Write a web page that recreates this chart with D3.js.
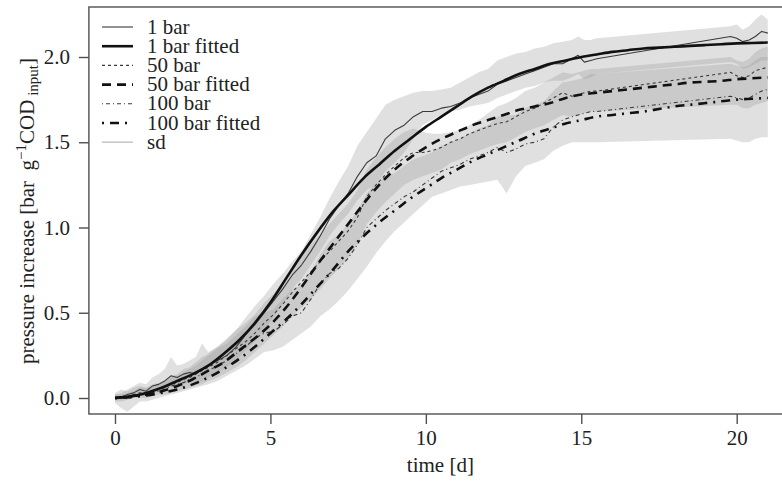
<!DOCTYPE html>
<html>
<head>
<meta charset="utf-8">
<script src="https://cdn.jsdelivr.net/npm/d3@7"></script>
<style>
  html, body { margin: 0; padding: 0; background: #fff; }
  svg { display: block; font-family: "Liberation Serif", "DejaVu Serif", serif; }
</style>
</head>
<body>
<svg id="chart" width="782" height="487"></svg>
<script>
// measurement days (same grid for measured series and sd bands)
const days = [0,0.2,0.4,0.6,0.8,1.0,1.2,1.4,1.6,1.8,2.0,2.2,2.4,2.6,2.8,3.0,3.3,3.6,3.9,4.2,4.5,4.8,5.1,5.4,5.7,6.0,6.3,6.6,6.9,7.2,7.5,7.8,8.1,8.4,8.7,9.0,9.3,9.6,9.9,10.2,10.5,10.8,11.1,11.4,11.7,12.0,12.3,12.6,12.9,13.2,13.5,13.8,14.1,14.4,14.7,14.9,15.1,15.3,15.5,19.8,20.0,20.2,20.4,20.6,20.8,21.0];

const bar1 = [0,0.005,0.02,0.03,0.05,0.04,0.07,0.08,0.1,0.13,0.12,0.14,0.15,0.14,0.17,0.19,0.22,0.25,0.3,0.37,0.43,0.5,0.57,0.64,0.72,0.78,0.86,0.95,1.05,1.13,1.2,1.3,1.38,1.42,1.52,1.57,1.6,1.65,1.68,1.68,1.7,1.71,1.73,1.76,1.78,1.8,1.84,1.86,1.88,1.9,1.92,1.94,1.96,1.96,1.99,2.01,1.97,1.98,1.99,2.12,2.11,2.09,2.1,2.12,2.15,2.14];
const bar50 = [0,0,0.01,0.02,0.03,0.03,0.04,0.05,0.06,0.08,0.09,0.11,0.12,0.14,0.16,0.18,0.21,0.25,0.29,0.33,0.38,0.44,0.49,0.55,0.62,0.68,0.74,0.8,0.86,0.92,0.98,1.06,1.18,1.25,1.31,1.36,1.41,1.44,1.44,1.45,1.47,1.5,1.52,1.55,1.57,1.59,1.61,1.62,1.65,1.68,1.7,1.73,1.76,1.79,1.77,1.78,1.79,1.8,1.8,1.91,1.89,1.88,1.89,1.92,1.93,1.94];
const bar100 = [0,0.005,-0.005,0.01,0.02,0.02,0.03,0.04,0.05,0.07,0.08,0.09,0.11,0.12,0.14,0.16,0.19,0.22,0.26,0.3,0.35,0.38,0.39,0.43,0.48,0.5,0.58,0.67,0.73,0.76,0.82,0.9,1.0,1.05,1.1,1.14,1.18,1.21,1.25,1.29,1.33,1.35,1.37,1.4,1.42,1.44,1.47,1.44,1.46,1.49,1.5,1.52,1.59,1.63,1.65,1.66,1.67,1.68,1.68,1.77,1.76,1.75,1.76,1.78,1.8,1.81];

// sd bands (lower / upper)
const sd1Lo = [-0.01,-0.01,0,0,0.02,0.01,0.03,0.04,0.05,0.07,0.06,0.08,0.09,0.08,0.1,0.12,0.15,0.18,0.22,0.28,0.33,0.4,0.47,0.55,0.64,0.7,0.78,0.86,0.95,1.02,1.08,1.16,1.22,1.25,1.33,1.38,1.44,1.52,1.6,1.63,1.66,1.68,1.69,1.71,1.72,1.73,1.76,1.78,1.8,1.82,1.83,1.85,1.86,1.86,1.88,1.9,1.87,1.88,1.9,1.97,1.96,1.93,1.94,1.96,1.98,1.98];
const sd1Hi = [0.02,0.03,0.05,0.07,0.09,0.08,0.12,0.14,0.17,0.24,0.19,0.2,0.22,0.24,0.32,0.27,0.3,0.34,0.4,0.47,0.54,0.6,0.67,0.73,0.8,0.86,0.96,1.06,1.17,1.27,1.36,1.48,1.56,1.64,1.72,1.75,1.77,1.79,1.8,1.8,1.81,1.82,1.85,1.88,1.91,1.93,1.98,2.0,2.02,2.03,2.05,2.06,2.08,2.09,2.1,2.12,2.1,2.1,2.11,2.18,2.19,2.16,2.18,2.22,2.25,2.22];
const sd50Lo = [-0.02,-0.02,-0.01,0,0,0,0.01,0.02,0.02,0.03,0.04,0.05,0.06,0.07,0.08,0.1,0.12,0.15,0.18,0.22,0.27,0.32,0.37,0.42,0.48,0.53,0.58,0.64,0.7,0.76,0.82,0.9,1.02,1.09,1.15,1.2,1.25,1.28,1.3,1.32,1.34,1.38,1.4,1.43,1.45,1.47,1.49,1.5,1.53,1.56,1.58,1.6,1.63,1.66,1.65,1.66,1.67,1.68,1.68,1.72,1.72,1.7,1.7,1.72,1.73,1.74];
const sd50Hi = [0.02,0.02,0.03,0.04,0.06,0.06,0.07,0.08,0.1,0.13,0.14,0.17,0.18,0.21,0.24,0.26,0.3,0.35,0.4,0.44,0.49,0.56,0.61,0.68,0.76,0.83,0.9,0.96,1.02,1.08,1.14,1.22,1.34,1.41,1.47,1.52,1.56,1.58,1.56,1.55,1.55,1.56,1.57,1.6,1.63,1.67,1.71,1.73,1.76,1.8,1.82,1.85,1.88,1.91,1.9,1.91,1.92,1.93,1.93,2.0,1.98,1.97,1.99,2.03,2.05,2.06];
const sd100Lo = [-0.03,-0.06,-0.08,-0.05,-0.02,-0.02,-0.01,0,0.01,0.02,0.03,0.04,0.05,0.06,0.07,0.08,0.1,0.13,0.16,0.19,0.23,0.27,0.28,0.3,0.34,0.38,0.42,0.48,0.52,0.57,0.63,0.7,0.77,0.85,0.92,0.98,1.03,1.08,1.13,1.18,1.2,1.22,1.24,1.25,1.26,1.27,1.28,1.2,1.3,1.36,1.38,1.4,1.45,1.48,1.5,1.5,1.5,1.5,1.5,1.52,1.51,1.5,1.5,1.52,1.53,1.53];
const sd100Hi = [0.03,0.05,0.04,0.06,0.07,0.06,0.08,0.09,0.1,0.12,0.13,0.15,0.17,0.19,0.22,0.25,0.29,0.32,0.37,0.42,0.48,0.5,0.52,0.58,0.64,0.66,0.74,0.84,0.92,0.96,1.02,1.1,1.2,1.26,1.3,1.32,1.36,1.4,1.42,1.44,1.48,1.5,1.52,1.55,1.58,1.6,1.65,1.66,1.66,1.7,1.72,1.74,1.8,1.85,1.86,1.87,1.88,1.9,1.9,1.96,1.95,1.94,1.95,1.98,2.0,2.0];

// fitted curves
const fitDays = [0,0.5,1,1.5,2,2.5,3,3.5,4,4.5,5,5.5,6,6.5,7,7.5,8,8.5,9,9.5,10,10.5,11,11.5,12,12.5,13,13.5,14,14.5,15,15.5,16,16.5,17,17.5,18,18.5,19,19.5,20,20.5,21];
const fit1 = [0,0.01,0.03,0.06,0.1,0.14,0.19,0.26,0.34,0.44,0.56,0.7,0.84,0.97,1.09,1.19,1.29,1.37,1.45,1.52,1.59,1.65,1.71,1.77,1.82,1.86,1.9,1.93,1.96,1.98,2.0,2.015,2.03,2.04,2.05,2.055,2.06,2.065,2.07,2.075,2.08,2.082,2.085];
const fit50 = [0,0.01,0.02,0.04,0.07,0.11,0.16,0.21,0.28,0.35,0.43,0.53,0.65,0.78,0.9,1.02,1.14,1.25,1.34,1.41,1.47,1.52,1.56,1.6,1.63,1.66,1.69,1.71,1.73,1.76,1.78,1.79,1.8,1.81,1.82,1.83,1.84,1.85,1.855,1.86,1.87,1.875,1.88];
const fit100 = [0,0.005,0.015,0.03,0.05,0.08,0.12,0.17,0.23,0.3,0.38,0.46,0.55,0.65,0.75,0.86,0.95,1.03,1.1,1.17,1.23,1.29,1.34,1.39,1.43,1.47,1.51,1.55,1.58,1.61,1.63,1.65,1.66,1.67,1.68,1.695,1.71,1.72,1.73,1.74,1.75,1.755,1.76];

const xTicks = [0, 5, 10, 15, 20];
const yTicks = [0, 0.5, 1, 1.5, 2];
const legendLabels = ['1 bar', '1 bar fitted', '50 bar', '50 bar fitted', '100 bar', '100 bar fitted', 'sd'];

const svg = d3.select('#chart');
const x = d3.scaleLinear().domain([0, 20]).range([115, 736.7]);
const y = d3.scaleLinear().domain([0, 2]).range([398, 57]);
const boxL = x(-0.84), boxR = x(21.84), boxT = 7, boxB = 414;

svg.append('clipPath').attr('id','plotclip').append('rect')
  .attr('x', boxL).attr('y', boxT).attr('width', boxR-boxL).attr('height', boxB-boxT);
const plot = svg.append('g').attr('clip-path','url(#plotclip)');

// sd bands
const area = d3.area().x(d=>x(d.t)).y0(d=>y(d.lo)).y1(d=>y(d.hi));
[[sd1Lo,sd1Hi],[sd50Lo,sd50Hi],[sd100Lo,sd100Hi]].forEach(([lo,hi])=>{
  const pts = days.map((t,i)=>({t, lo:lo[i], hi:hi[i]}));
  plot.append('path').datum(pts).attr('d', area)
    .attr('fill','#999').attr('fill-opacity',0.3).attr('stroke','none');
});

const line = d3.line().x(d=>x(d[0])).y(d=>y(d[1]));
const smooth = d3.line().x(d=>x(d[0])).y(d=>y(d[1])).curve(d3.curveMonotoneX);

const styles = [
  {stroke:'#3a3a3a', width:1.1, dash:null},
  {stroke:'#111', width:2.6, dash:null},
  {stroke:'#3a3a3a', width:1.1, dash:'3,3'},
  {stroke:'#111', width:2.6, dash:'9,6'},
  {stroke:'#3a3a3a', width:1.1, dash:'1,3,4,3'},
  {stroke:'#111', width:2.6, dash:'2,6,9,6'},
  {stroke:'#c8c8c8', width:1.6, dash:null}
];

const measured = [bar1, bar50, bar100];
const fitted = [fit1, fit50, fit100];
measured.forEach((vals, k)=>{
  const s = styles[k*2];
  plot.append('path').datum(days.map((t,i)=>[t, vals[i]])).attr('d', line)
    .attr('fill','none').attr('stroke', s.stroke).attr('stroke-width', s.width)
    .attr('stroke-dasharray', s.dash).attr('stroke-linejoin','round');
});
fitted.forEach((vals, k)=>{
  const s = styles[k*2+1];
  plot.append('path').datum(fitDays.map((t,i)=>[t, vals[i]])).attr('d', smooth)
    .attr('fill','none').attr('stroke', s.stroke).attr('stroke-width', s.width)
    .attr('stroke-dasharray', s.dash);
});

// box
svg.append('rect').attr('x', boxL).attr('y', boxT).attr('width', boxR-boxL).attr('height', boxB-boxT)
  .attr('fill','none').attr('stroke','#505050').attr('stroke-width',1.4);

// axes
const xAxis = svg.append('g').attr('transform', `translate(0,${boxB})`)
  .call(d3.axisBottom(x).tickValues(xTicks).tickSize(10).tickPadding(6).tickFormat(d3.format('d')));
const yAxis = svg.append('g').attr('transform', `translate(${boxL},0)`)
  .call(d3.axisLeft(y).tickValues(yTicks).tickSize(10).tickPadding(9).tickFormat(d3.format('.1f')));
[xAxis, yAxis].forEach(a=>{
  a.select('.domain').remove();
  a.selectAll('line').attr('stroke','#505050').attr('stroke-width',1.4);
  a.selectAll('text').attr('fill','#222').style('font-size','21px')
    .style('font-family','"Liberation Serif", serif');
});

svg.append('text').attr('x', (boxL+boxR)/2 - 1).attr('y', 472).attr('text-anchor','middle')
  .attr('fill','#222').style('font-size','21px').text('time [d]');

const yl = svg.append('text').attr('transform','translate(34,211) rotate(-90)')
  .attr('text-anchor','middle').attr('fill','#222').style('font-size','21px').style('white-space','pre');
yl.append('tspan').text('pressure increase [bar  g');
yl.append('tspan').attr('dy',-8).style('font-size','15px').text('−1');
yl.append('tspan').attr('dy',8).text('COD');
yl.append('tspan').attr('dy',4).style('font-size','15px').text(' input');
yl.append('tspan').attr('dy',-4).text(']');

// legend
const leg = svg.append('g');
legendLabels.forEach((lab, i)=>{
  const s = styles[i];
  const cy = 27 + i*19.2;
  leg.append('line').attr('x1',102).attr('x2',133).attr('y1',cy).attr('y2',cy)
    .attr('stroke', s.stroke).attr('stroke-width', s.width).attr('stroke-dasharray', s.dash);
  leg.append('text').attr('x',147).attr('y',cy+6.5).attr('fill','#222')
    .style('font-size','21px').text(lab);
});
</script>
</body>
</html>
